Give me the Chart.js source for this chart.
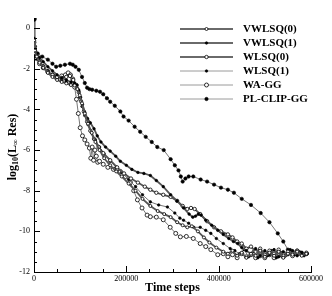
<!DOCTYPE html>
<html><head><meta charset="utf-8">
<script src="https://cdn.jsdelivr.net/npm/chart.js@4/dist/chart.umd.min.js"></script>
<style>html,body{margin:0;padding:0;background:#fff}#wrap{width:332px;height:296px;position:relative}</style>
</head><body><div id="wrap"><canvas id="c"></canvas></div>
<script>
// ---- data (time steps, log10 residual) ----
const seriesNames = ["VWLSQ(0)","VWLSQ(1)","WLSQ(0)","WLSQ(1)","WA-GG","PL-CLIP-GG"];
const xTickLabels = [0,200000,400000,600000];
const yTickLabels = [0,-2,-4,-6,-8,-10,-12];

const vwlsq0Steps = [0,2000,6000,12000,20000,30000,40000,50000,60000,70000,80000,88000,94000,99000,104000,110000,117000,125000,133000,142000,152000,165000,178000,190000,205000,220000,235000,252000,268000,282000,296000,310000,322000,332000,342000,355000,368000,380000,395000,410000,420000,430000,440000,450000,460000,470000,480000,490000,500000,510000,520000,530000,540000,550000,560000,570000,580000,590000];
const vwlsq0Res = [-0.6,-1.1,-1.4,-1.7,-1.95,-2.2,-2.4,-2.55,-2.65,-2.72,-2.8,-2.82,-3.0,-3.3,-3.7,-4.2,-4.7,-5.15,-5.6,-6.0,-6.4,-6.75,-7.05,-7.3,-7.65,-8.0,-8.4,-8.75,-9.0,-9.15,-9.3,-9.55,-9.7,-9.8,-9.75,-10.0,-10.3,-10.55,-10.8,-11.0,-11.1,-10.95,-11.2,-11.05,-11.3,-11.1,-11.2,-10.95,-11.25,-11.05,-11.2,-11.0,-11.3,-11.1,-11.15,-11.0,-11.2,-11.1];

const vwlsq1Steps = [0,2000,6000,12000,20000,30000,40000,50000,60000,70000,80000,88000,93000,97000,101000,105000,110000,116000,122000,130000,137000,145000,155000,165000,177000,187000,200000,212000,225000,238000,252000,265000,280000,296000,310000,324000,336000,344000,350000,356000,362000,372000,385000,398000,410000,422000,432000,441000,450000,460000,470000,480000,490000,500000,510000,520000,530000,540000,550000,560000,570000,580000,590000];
const vwlsq1Res = [-0.5,-1.0,-1.25,-1.45,-1.65,-1.9,-2.1,-2.3,-2.45,-2.55,-2.65,-2.7,-2.8,-3.05,-3.4,-3.75,-4.15,-4.45,-4.66,-4.95,-5.3,-5.6,-5.85,-6.05,-6.3,-6.55,-6.75,-6.95,-7.1,-7.15,-7.25,-7.5,-7.8,-8.2,-8.5,-8.85,-9.15,-9.3,-9.25,-9.15,-9.2,-9.45,-9.7,-9.95,-10.15,-10.35,-10.5,-10.6,-10.8,-10.95,-11.1,-10.85,-11.2,-10.95,-11.15,-10.9,-11.25,-11.0,-11.15,-10.95,-11.2,-11.05,-11.1];

const wlsq0Steps = [0,2000,6000,12000,20000,30000,40000,50000,60000,70000,78000,85000,92000,97000,102000,108000,115000,122000,130000,140000,150000,165000,180000,195000,210000,225000,240000,252000,265000,280000,296000,310000,322000,332000,340000,348000,360000,375000,390000,405000,420000,430000,440000,450000,460000,470000,480000,490000,500000,510000,520000,530000,540000,550000,560000,570000,580000,590000];
const wlsq0Res = [-0.6,-1.1,-1.4,-1.65,-1.9,-2.15,-2.3,-2.4,-2.45,-2.4,-2.35,-2.55,-2.8,-3.15,-3.6,-4.1,-4.6,-5.05,-5.45,-5.85,-6.15,-6.5,-6.85,-7.15,-7.4,-7.6,-7.8,-7.95,-8.1,-8.2,-8.3,-8.5,-8.75,-8.9,-8.85,-8.9,-9.15,-9.5,-9.8,-10.0,-10.15,-10.3,-10.5,-10.6,-10.85,-10.75,-11.0,-10.85,-11.15,-10.95,-11.1,-10.9,-11.2,-11.0,-11.1,-10.95,-11.15,-11.05];

const wlsq1Steps = [0,2000,6000,12000,20000,30000,40000,50000,60000,70000,80000,88000,94000,99000,104000,110000,117000,125000,133000,142000,152000,165000,178000,190000,205000,220000,235000,252000,270000,289000,305000,316000,324000,335000,346000,360000,372000,383000,395000,410000,425000,435000,445000,455000,465000,475000,485000,495000,505000,515000,525000,535000,545000,555000,565000,575000,585000,592000];
const wlsq1Res = [-0.55,-1.05,-1.35,-1.6,-1.85,-2.1,-2.3,-2.45,-2.55,-2.65,-2.75,-2.8,-3.0,-3.4,-3.85,-4.3,-4.75,-5.15,-5.5,-5.85,-6.2,-6.55,-6.85,-7.1,-7.45,-7.8,-8.2,-8.55,-8.7,-8.8,-9.1,-9.35,-9.45,-9.6,-9.8,-9.8,-9.95,-10.1,-10.35,-10.6,-10.85,-10.95,-11.1,-10.9,-11.25,-11.0,-11.3,-11.05,-11.2,-10.95,-11.3,-11.05,-11.2,-10.9,-11.15,-11.0,-11.2,-11.1];

const waggSteps = [0,2000,6000,12000,20000,30000,40000,50000,60000,68000,74000,79000,84000,88000,92000,96000,100000,105000,110000,115000,120000,123000,126000,129000,132000,135000,138000,142000,150000,160000,172000,187000,198000,209000,216000,224000,234000,245000,252000,265000,280000,295000,307000,317000,330000,345000,360000,372000,383000,398000,410000,420000,430000,440000,450000,460000,470000,480000,490000,500000,510000,520000,530000,540000,550000,560000,570000,580000,590000];
const waggRes = [-0.7,-1.2,-1.5,-1.75,-1.95,-2.15,-2.3,-2.4,-2.35,-2.3,-2.2,-2.3,-2.5,-2.9,-3.5,-4.2,-4.9,-5.3,-5.5,-5.7,-5.9,-6.4,-5.85,-6.5,-6.0,-6.3,-6.6,-6.55,-6.7,-6.85,-6.95,-7.05,-7.3,-7.6,-8.0,-8.45,-8.85,-9.2,-9.28,-9.3,-9.43,-9.8,-10.1,-10.27,-10.25,-10.35,-10.6,-10.75,-10.9,-11.15,-11.1,-11.25,-11.15,-11.3,-11.1,-11.25,-11.15,-11.3,-11.2,-11.3,-11.15,-11.3,-11.2,-11.25,-11.1,-11.2,-11.05,-11.15,-11.1];

const plclipSteps = [0,2000,8000,18000,30000,40000,48000,57000,67000,78000,84000,90000,97000,104000,110000,115000,120000,126000,135000,143000,150000,158000,165000,175000,187000,194000,205000,218000,230000,242000,255000,267000,281000,296000,305000,313000,318000,322000,328000,335000,345000,361000,375000,390000,405000,420000,433000,450000,470000,491000,510000,528000,540000,550000,560000,570000,580000,590000];
const plclipRes = [0.45,-0.9,-1.25,-1.4,-1.55,-1.75,-1.9,-1.85,-1.8,-1.75,-1.8,-1.9,-2.05,-2.4,-2.7,-2.93,-3.0,-3.03,-3.08,-3.13,-3.25,-3.45,-3.62,-3.82,-4.1,-4.35,-4.55,-4.85,-5.1,-5.35,-5.6,-5.85,-6.0,-6.45,-6.75,-7.0,-7.3,-7.55,-7.4,-7.3,-7.3,-7.45,-7.55,-7.7,-7.85,-7.95,-8.1,-8.4,-8.7,-9.1,-9.55,-10.1,-10.5,-10.9,-11.0,-10.95,-11.05,-11.1];

// ---- build ----
function pts(xs, ys){ const n=Math.min(xs.length,ys.length); const o=[]; for(let i=0;i<n;i++) o.push({x:xs[i],y:ys[i]}); return o; }
const FONT = '"Liberation Serif","Times New Roman",serif';
const styles = [
  {line:'#555', leg:'#6a6a6a', lw:1.8, fill:'#fff', r:1.5, bw:0.8},
  {line:'#555', leg:'#6a6a6a', lw:1.8, fill:'#000', r:1.3, bw:0.6},
  {line:'#555', leg:'#6a6a6a', lw:1.8, fill:'#fff', r:1.7, bw:0.8},
  {line:'#777', leg:'#9a9a9a', lw:1.0, fill:'#000', r:1.3, bw:0.6},
  {line:'#777', leg:'#9a9a9a', lw:1.0, fill:'#fff', r:2.0, bw:0.8},
  {line:'#777', leg:'#9a9a9a', lw:1.0, fill:'#000', r:1.7, bw:0.6}
];
const seriesData = [
  pts(vwlsq0Steps, vwlsq0Res), pts(vwlsq1Steps, vwlsq1Res), pts(wlsq0Steps, wlsq0Res),
  pts(wlsq1Steps, wlsq1Res), pts(waggSteps, waggRes), pts(plclipSteps, plclipRes)
];
const datasets = seriesNames.map((n,i)=>({
  label:n, data:seriesData[i], showLine:true,
  borderColor:styles[i].line, borderWidth:styles[i].lw,
  pointRadius:(ctx)=> (i===5 && ctx.dataIndex===0) ? 2.4 : styles[i].r,
  pointBackgroundColor:styles[i].fill,
  pointBorderColor:'#000', pointBorderWidth:styles[i].bw, pointStyle:'circle',
  tension:0, fill:false
}));

const decor = {
  id:'decor',
  afterDraw(chart){
    const ctx = chart.ctx, xs = chart.scales.x, ys = chart.scales.y, ca = chart.chartArea;
    ctx.save();
    ctx.strokeStyle = '#000'; ctx.lineWidth = 1;
    ctx.beginPath();
    for(let v=0; v<=600000; v+=50000){
      const px = Math.round(xs.getPixelForValue(v))+0.5;
      const len = (v % 200000 === 0) ? 6 : 3;
      ctx.moveTo(px, ca.bottom); ctx.lineTo(px, ca.bottom-len);
    }
    for(let k=0; k<=24; k++){
      const v = -12 + k*0.5;
      const py = Math.round(ys.getPixelForValue(v))+0.5;
      const len = (Math.abs(v % 2) < 1e-9) ? 6 : 3;
      ctx.moveTo(ca.left, py); ctx.lineTo(ca.left+len, py);
    }
    ctx.stroke();
    ctx.fillStyle = '#000';
    ctx.translate(13, (ca.top+ca.bottom)/2 + 2);
    ctx.rotate(-Math.PI/2);
    const parts = [['log',12,0],['10',8,3],['(L',12,0],['\u221E',8,3],[' Res)',12,0]];
    let total = 0;
    parts.forEach(p=>{ ctx.font = 'bold '+p[1]+'px '+FONT; total += ctx.measureText(p[0]).width; });
    let x = -total/2;
    ctx.textBaseline = 'middle'; ctx.textAlign = 'left';
    parts.forEach(p=>{ ctx.font = 'bold '+p[1]+'px '+FONT; ctx.fillText(p[0], x, p[2]); x += ctx.measureText(p[0]).width; });
    ctx.restore();
    ctx.save();
    const rowY0 = 29, dy = 14, x0 = 180, x1 = 233, xm = 206.5, tx = 243;
    seriesNames.forEach((n,i)=>{
      const y = rowY0 + i*dy, s = styles[i];
      ctx.strokeStyle = s.leg; ctx.lineWidth = s.lw;
      ctx.beginPath(); ctx.moveTo(x0, y); ctx.lineTo(x1, y); ctx.stroke();
      ctx.beginPath(); ctx.arc(xm, y, s.r, 0, Math.PI*2);
      ctx.fillStyle = s.fill; ctx.fill();
      ctx.strokeStyle = '#000'; ctx.lineWidth = s.bw; ctx.stroke();
      ctx.fillStyle = '#000'; ctx.font = 'bold 11px '+FONT;
      ctx.textBaseline = 'middle'; ctx.textAlign = 'left';
      ctx.fillText(n, tx, y+0.5);
    });
    ctx.restore();
  }
};

new Chart(document.getElementById('c'), {
  type:'scatter',
  data:{datasets},
  options:{
    responsive:true, maintainAspectRatio:false, animation:false,
    layout:{padding:{left:0, right:21, top:18, bottom:0}},
    plugins:{legend:{display:false}, tooltip:{enabled:false}},
    scales:{
      x:{
        type:'linear', min:0, max:600000,
        afterBuildTicks(s){ s.ticks = xTickLabels.map(v=>({value:v})); },
        afterFit(s){ s.height = 24; },
        grid:{display:false, drawTicks:false},
        border:{display:true, color:'#000', width:1},
        ticks:{padding:2, color:'#000', font:{family:FONT, size:8}, maxRotation:0, callback:v=>String(v)},
        title:{display:true, text:'Time steps', color:'#000', font:{family:FONT, size:12, weight:'bold'}, padding:{top:0,bottom:1}}
      },
      y:{
        type:'linear', min:-12, max:0.5,
        afterBuildTicks(s){ s.ticks = yTickLabels.map(v=>({value:v})); },
        afterFit(s){ s.width = 34; },
        grid:{display:false, drawTicks:false},
        border:{display:true, color:'#000', width:1},
        ticks:{padding:4, color:'#000', font:{family:FONT, size:8}, callback:v=>String(v)}
      }
    }
  },
  plugins:[decor]
});
</script></body></html>
